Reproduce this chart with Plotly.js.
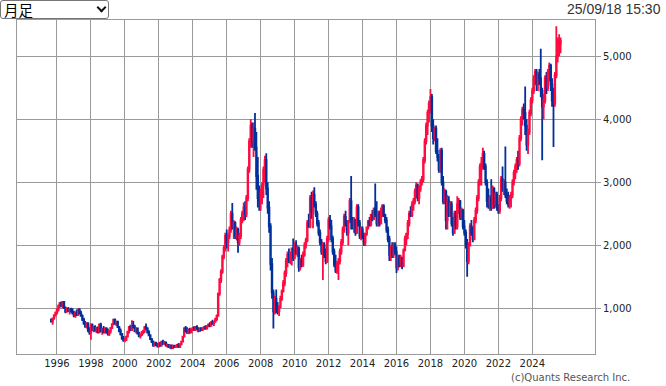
<!DOCTYPE html>
<html>
<head>
<meta charset="utf-8">
<script src="https://cdn.plot.ly/plotly-3.0.1.min.js"></script>
<style>
  html, body { margin: 0; padding: 0; background: #fff; }
  #chart { position: absolute; left: 0; top: 0; width: 666px; height: 386px; }
  #period { position: absolute; left: 0; top: 0; width: 109px; height: 19px; box-sizing: border-box;
            border: 1px solid #767676; border-radius: 3px; background: #fff; z-index: 10;
            font-family: 'Noto Sans CJK JP', sans-serif; font-size: 14.5px; line-height: 17px;
            padding: 0 0 0 3px; color: #000; white-space: nowrap; }
  #period .chev { position: absolute; left: 97px; top: 3px; width: 5px; height: 5px;
            border-right: 2px solid #111; border-bottom: 2px solid #111; transform: rotate(45deg); }
</style>
</head>
<body>
<div id="period"><span class="lbl">月足</span><span class="chev"></span></div>
<div id="chart"></div>
<script>
// Monthly candles, first month = 1995-09
const startYear = 1995, startMonth = 9;

const open = [
  820, 790, 840, 890,
  930, 980, 1040, 1080, 1050, 1100, 1010, 950, 990, 960, 980, 950,
  920, 880, 930, 900, 980, 920, 880, 820, 760, 710, 760, 650,
  620, 730, 660, 700, 650, 690, 620, 740, 640, 670, 620, 680,
  620, 600, 640, 690, 750, 820, 760, 790, 700, 640, 590, 520,
  490, 500, 550, 630, 700, 660, 720, 700, 640, 680, 600, 560,
  580, 620, 640, 700, 680, 620, 570, 510, 470, 420, 450, 420,
  410, 440, 410, 470, 440, 460, 410, 420, 390, 410, 370, 400,
  390, 400, 420, 390, 430, 470, 550, 680, 640, 610, 660, 620,
  670, 690, 660, 700, 680, 640, 680, 660, 690, 700, 680, 720,
  740, 720, 780, 760, 790, 830, 880, 1230, 1450, 1580, 1820, 1960,
  2150, 2050, 2150, 2250, 2500, 2300, 2350, 2150, 2250, 2050, 2150, 2400,
  2500, 2600, 2500, 2750, 3200, 3650, 3900, 3650, 3850, 3550, 3100, 2750,
  2700, 2850, 2950, 3200, 3350, 2900, 2600, 2300, 1700, 1250, 950, 1150,
  1000, 950, 1020, 1150, 1270, 1400, 1560, 1750, 1850, 1760, 1880, 1950,
  1800, 2000, 1880, 1950, 1650, 1750, 1680, 1850, 2000, 2080, 2350, 2300,
  2750, 2550, 2800, 2650, 2500, 2350, 2200, 2050, 1900, 2000, 1850, 1750,
  2100, 2400, 2300, 2100, 1900, 1700, 1600, 1700, 1750, 1900, 2050, 2250,
  2450, 2350, 2200, 2380, 2700, 2400, 2300, 2400, 2200, 2600, 2350, 2150,
  2250, 2150, 2050, 2180, 2280, 2380, 2330, 2480, 2420, 2580, 2500, 2350,
  2500, 2350, 2550, 2620, 2480, 2400, 2250, 2100, 1850, 1950, 1850, 2000,
  1900, 1650, 1800, 1700, 1800, 1680, 1920, 2100, 2180, 2350, 2500, 2480,
  2650, 2700, 2850, 2950, 2750, 2900, 3000, 3050, 3350, 3650, 3900, 4100,
  4250, 4350, 3900, 3700, 3850, 3500, 3400, 3200, 3500, 3000, 2700, 2850,
  2400, 2700, 2500, 2650, 2350, 2200, 2500, 2300, 2650, 2700, 2450, 2550,
  2300, 2200, 2000, 1750, 2000, 2300, 2200, 2100, 2400, 2550, 2750, 3000,
  3250, 3300, 3450, 3250, 3000, 2700, 2650, 2750, 2600, 2900, 2650, 2800,
  2600, 2550, 2750, 3050, 2900, 3000, 2800, 2700, 2650, 2750, 2800, 3000,
  3150, 3250, 3350, 3300, 3700, 4000, 4150, 4100, 3900, 3600, 3800, 4100,
  4300, 4450, 4650, 4750, 4550, 4700, 4650, 4450, 4200, 4300, 4650, 4500,
  4750, 4850, 4550, 4300, 4250, 4700, 5000, 5150, 5200
];
const high = [
  840, 850, 900, 950,
  1000, 1060, 1100, 1110, 1110, 1110, 1030, 1010, 1020, 1000, 1010, 1000,
  960, 950, 980, 1000, 1000, 960, 900, 850, 800, 780, 780, 700,
  760, 760, 720, 730, 700, 710, 760, 770, 690, 720, 700, 700,
  680, 660, 700, 760, 830, 840, 800, 800, 720, 680, 610, 560,
  530, 560, 640, 720, 740, 810, 800, 740, 700, 690, 630, 600,
  640, 660, 720, 760, 700, 650, 590, 530, 490, 470, 470, 450,
  460, 470, 480, 500, 480, 470, 440, 430, 420, 420, 420, 420,
  420, 430, 450, 440, 480, 560, 700, 720, 700, 680, 690, 680,
  700, 720, 720, 730, 700, 690, 700, 700, 720, 730, 730, 760,
  780, 790, 820, 800, 850, 900, 1250, 1480, 1620, 1850, 2000, 2200,
  2250, 2200, 2300, 2550, 2670, 2400, 2380, 2300, 2280, 2200, 2450, 2550,
  2680, 2700, 2800, 3250, 3700, 4000, 3950, 3950, 4100, 3800, 3400, 2950,
  2900, 3000, 3250, 3420, 3460, 3000, 2700, 2350, 1800, 1300, 1200, 1300,
  1100, 1050, 1200, 1300, 1450, 1600, 1800, 1900, 1950, 1900, 1960, 2110,
  2050, 2080, 2000, 1980, 1800, 1850, 1900, 2050, 2120, 2400, 2500, 2800,
  2850, 2870, 2920, 2700, 2550, 2400, 2250, 2100, 2050, 2050, 1950, 2150,
  2450, 2480, 2400, 2150, 1950, 1850, 1750, 1800, 1950, 2100, 2300, 2500,
  2550, 2400, 2400, 2750, 3100, 2450, 2450, 2420, 2650, 2650, 2400, 2300,
  2300, 2200, 2200, 2300, 2400, 2450, 2500, 2560, 2600, 2980, 2700, 2550,
  2550, 2600, 2650, 2650, 2500, 2450, 2300, 2150, 2000, 2050, 2050, 2050,
  1980, 1850, 1850, 1850, 1820, 1950, 2150, 2200, 2400, 2550, 2620, 2700,
  2750, 2900, 3000, 2980, 2950, 3050, 3100, 3400, 3700, 3950, 4150, 4300,
  4480, 4400, 4000, 3880, 3900, 3700, 3450, 3540, 3550, 3100, 2900, 2880,
  2800, 2780, 2700, 2700, 2450, 2550, 2550, 2780, 2750, 2720, 2600, 2580,
  2400, 2250, 2100, 2050, 2350, 2400, 2300, 2450, 2600, 2800, 3050, 3300,
  3400, 3550, 3500, 3300, 3050, 2900, 2800, 3050, 2950, 2920, 2850, 2850,
  2650, 2800, 3100, 3250, 3050, 3570, 2900, 2850, 2800, 2850, 3050, 3200,
  3300, 3400, 3500, 3750, 4050, 4200, 4250, 4520, 4000, 3850, 4150, 4350,
  4500, 4700, 4800, 4800, 4750, 4800, 5120, 4500, 4400, 4700, 4750, 4800,
  4900, 4880, 4650, 4500, 4750, 5476, 5300, 5350, 5300
];
const low = [
  780, 740, 820, 870,
  900, 950, 1000, 1020, 1000, 990, 920, 930, 940, 900, 930, 900,
  860, 850, 880, 880, 900, 870, 800, 740, 690, 680, 620, 580,
  500, 640, 620, 630, 610, 600, 610, 620, 580, 600, 600, 600,
  570, 560, 600, 670, 730, 740, 720, 690, 620, 570, 500, 470,
  460, 480, 540, 600, 640, 640, 680, 620, 600, 590, 540, 520,
  560, 590, 610, 660, 600, 560, 500, 450, 390, 390, 400, 380,
  380, 390, 400, 420, 420, 400, 380, 370, 360, 350, 360, 370,
  370, 380, 370, 370, 420, 460, 540, 620, 600, 590, 600, 610,
  640, 650, 640, 660, 620, 630, 640, 640, 660, 660, 670, 700,
  700, 710, 740, 720, 770, 800, 870, 1200, 1400, 1550, 1780, 1900,
  1950, 1900, 2100, 2200, 2250, 2100, 2100, 2080, 1880, 1990, 2100, 2350,
  2380, 2400, 2450, 2700, 3150, 3550, 3550, 3400, 3500, 2880, 2600, 2550,
  2550, 2650, 2750, 3000, 2800, 2500, 2200, 1600, 1150, 680, 900, 920,
  900, 880, 1000, 1120, 1250, 1350, 1500, 1650, 1720, 1700, 1680, 1750,
  1780, 1850, 1820, 1580, 1600, 1650, 1660, 1820, 1950, 2050, 2280, 2270,
  2420, 2270, 2600, 2450, 2300, 2150, 2000, 1850, 1450, 1800, 1700, 1720,
  2050, 2250, 2050, 1850, 1650, 1560, 1550, 1450, 1700, 1850, 2000, 2200,
  2300, 2150, 2000, 2350, 2250, 2250, 2200, 2150, 2180, 2300, 2100, 2080,
  2100, 1990, 1990, 2150, 2250, 2300, 2300, 2380, 2400, 2450, 2300, 2300,
  2300, 2330, 2450, 2450, 2350, 2200, 2050, 1750, 1750, 1800, 1800, 1850,
  1560, 1600, 1650, 1650, 1620, 1650, 1900, 2000, 2100, 2300, 2450, 2450,
  2550, 2650, 2750, 2700, 2650, 2850, 2950, 3000, 3300, 3600, 3750, 3950,
  4100, 3800, 3600, 3650, 3450, 3330, 3150, 3150, 2950, 2650, 2650, 2250,
  2250, 2450, 2450, 2300, 2150, 2180, 2250, 2250, 2500, 2400, 2400, 2250,
  2150, 1950, 1500, 1700, 1980, 2150, 2050, 2080, 2350, 2500, 2700, 2950,
  2950, 3200, 3200, 2950, 2600, 2580, 2550, 2550, 2580, 2580, 2600, 2550,
  2500, 2500, 2700, 2850, 2800, 2750, 2650, 2600, 2580, 2600, 2750, 2950,
  3050, 3150, 3200, 3250, 3650, 3900, 4000, 3750, 3500, 3450, 3750, 4050,
  4250, 4400, 4550, 4450, 4450, 4550, 4350, 3350, 4000, 4250, 4400, 4450,
  4600, 4450, 4200, 3560, 4200, 4650, 4900, 5000, 5050
];
const close = [
  790, 840, 890, 930,
  980, 1040, 1080, 1050, 1100, 1010, 950, 990, 960, 980, 950, 920,
  880, 930, 900, 980, 920, 880, 820, 760, 710, 760, 650, 620,
  730, 660, 700, 650, 690, 620, 740, 640, 670, 620, 680, 620,
  600, 640, 690, 750, 820, 760, 790, 700, 640, 590, 520, 490,
  500, 550, 630, 700, 660, 720, 700, 640, 680, 600, 560, 580,
  620, 640, 700, 680, 620, 570, 510, 470, 420, 450, 420, 410,
  440, 410, 470, 440, 460, 410, 420, 390, 410, 370, 400, 390,
  400, 420, 390, 430, 470, 550, 680, 640, 610, 660, 620, 670,
  690, 660, 700, 680, 640, 680, 660, 690, 700, 680, 720, 740,
  720, 780, 760, 790, 830, 880, 1230, 1450, 1580, 1820, 1960, 2150,
  2050, 2150, 2250, 2500, 2300, 2350, 2150, 2250, 2050, 2150, 2400, 2500,
  2600, 2500, 2750, 3200, 3650, 3900, 3650, 3850, 3550, 3100, 2750, 2700,
  2850, 2950, 3200, 3350, 2900, 2600, 2300, 1700, 1250, 950, 1150, 1000,
  950, 1020, 1150, 1270, 1400, 1560, 1750, 1850, 1760, 1880, 1950, 1800,
  2000, 1880, 1950, 1650, 1750, 1680, 1850, 2000, 2080, 2350, 2300, 2750,
  2550, 2800, 2650, 2500, 2350, 2200, 2050, 1900, 2000, 1850, 1750, 2100,
  2400, 2300, 2100, 1900, 1700, 1600, 1700, 1750, 1900, 2050, 2250, 2450,
  2350, 2200, 2380, 2700, 2400, 2300, 2400, 2200, 2600, 2350, 2150, 2250,
  2150, 2050, 2180, 2280, 2380, 2330, 2480, 2420, 2580, 2500, 2350, 2500,
  2350, 2550, 2620, 2480, 2400, 2250, 2100, 1850, 1950, 1850, 2000, 1900,
  1650, 1800, 1700, 1800, 1680, 1920, 2100, 2180, 2350, 2500, 2480, 2650,
  2700, 2850, 2950, 2750, 2900, 3000, 3050, 3350, 3650, 3900, 4100, 4250,
  4350, 3900, 3700, 3850, 3500, 3400, 3200, 3500, 3000, 2700, 2850, 2400,
  2700, 2500, 2650, 2350, 2200, 2500, 2300, 2650, 2700, 2450, 2550, 2300,
  2200, 2000, 1750, 2000, 2300, 2200, 2100, 2400, 2550, 2750, 3000, 3250,
  3300, 3450, 3250, 3000, 2700, 2650, 2750, 2600, 2900, 2650, 2800, 2600,
  2550, 2750, 3050, 2900, 3000, 2800, 2700, 2650, 2750, 2800, 3000, 3150,
  3250, 3350, 3300, 3700, 4000, 4150, 4100, 3900, 3600, 3800, 4100, 4300,
  4450, 4650, 4750, 4550, 4700, 4650, 4450, 4200, 4300, 4650, 4500, 4750,
  4850, 4550, 4300, 4250, 4700, 5000, 5150, 5250, 5250
];

const yTicks = [1000, 2000, 3000, 4000, 5000];
const xTickYears = [1996, 1998, 2000, 2002, 2004, 2006, 2008, 2010, 2012, 2014, 2016, 2018, 2020, 2022, 2024];
const stampText = '25/09/18 15:30';
const copyText = '(c)Quants Research Inc.';

// month dates
const dates = [];
for (let i = 0; i < close.length; i++) {
  const m0 = startMonth - 1 + i;
  const y = startYear + Math.floor(m0 / 12);
  const m = (m0 % 12) + 1;
  dates.push(y + '-' + String(m).padStart(2, '0') + '-01');
}

const RED = '#ff0a41', BLUE = '#00309c', GRID = '#9a9a9a';

const trace = {
  type: 'candlestick',
  x: dates, open: open, high: high, low: low, close: close,
  increasing: { line: { color: RED, width: 1.8 }, fillcolor: RED },
  decreasing: { line: { color: BLUE, width: 1.8 }, fillcolor: BLUE },
  whiskerwidth: 0,
  hoverinfo: 'skip'
};

const layout = {
  width: 666, height: 386,
  margin: { l: 17, r: 71, t: 20, b: 32, pad: 0 },
  paper_bgcolor: '#fff', plot_bgcolor: '#fff',
  showlegend: false,
  font: { family: 'DejaVu Sans', size: 10, color: '#222' },
  xaxis: {
    type: 'date',
    range: ['1993-08-25', '2027-09-11'],
    rangeslider: { visible: false },
    tickvals: xTickYears.map(y => y + '-01-01'),
    ticktext: xTickYears.map(String),
    ticks: '',
    showgrid: true, gridcolor: GRID, gridwidth: 1,
    showline: true, mirror: true, linecolor: GRID, linewidth: 1,
    zeroline: false,
    tickfont: { family: 'DejaVu Sans', size: 10, color: '#222' },
    fixedrange: true
  },
  yaxis: {
    side: 'right',
    range: [275, 5576],
    tickvals: yTicks,
    ticktext: yTicks.map(v => v.toLocaleString('en-US')),
    ticks: 'outside', ticklen: 5, tickcolor: GRID, tickwidth: 1,
    showgrid: true, gridcolor: GRID, gridwidth: 1,
    showline: true, mirror: true, linecolor: GRID, linewidth: 1,
    zeroline: false,
    tickfont: { family: 'DejaVu Sans', size: 10, color: '#222' },
    fixedrange: true
  },
  annotations: [
    { text: stampText, xref: 'paper', yref: 'paper', x: (663 - 17) / 578, y: (354 - 9) / 334,
      xanchor: 'right', yanchor: 'middle', showarrow: false,
      font: { family: 'Liberation Sans', size: 14, color: '#333' } },
    { text: copyText, xref: 'paper', yref: 'paper', x: (632 - 17) / 578, y: (354 - 378) / 334,
      xanchor: 'right', yanchor: 'middle', showarrow: false,
      font: { family: 'DejaVu Sans', size: 10, color: '#555' } }
  ]
};

Plotly.newPlot('chart', [trace], layout, { displayModeBar: false, staticPlot: true });
</script>
</body>
</html>
